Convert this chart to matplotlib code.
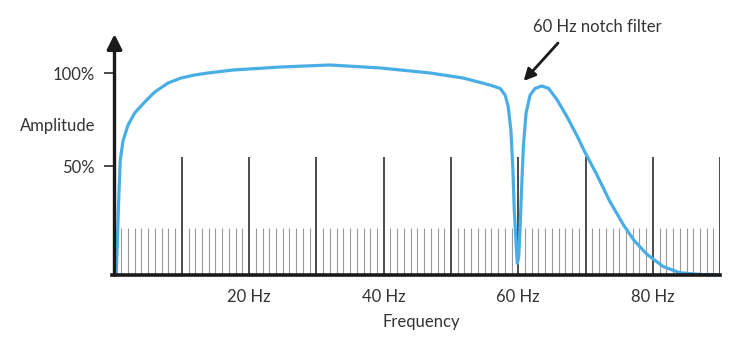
import matplotlib
matplotlib.use("Agg")
import matplotlib.pyplot as plt

# frequency response (Hz, amplitude %)
freq_hz = [0.0, 0.27, 0.42, 0.62, 0.86, 1.26, 2.0, 3.0, 4.5, 6.0, 7.95, 9.9,
           11.9, 13.9, 17.6, 24.6, 32.0, 39.5, 46.9, 51.8, 55.8, 57.3, 58.05,
           58.5, 58.9, 59.2, 59.4, 59.7, 59.85, 60.06, 60.25, 60.5, 60.75,
           61.15, 61.75, 62.5, 63.5, 64.5, 65.7, 67.2, 68.7, 69.9, 71.65,
           73.6, 75.6, 77.2, 79.1, 81.5, 84.0, 87.0, 89.5]
amplitude = [-8.6, -7.5, 8.6, 31.8, 53.3, 63.5, 72.0, 78.6, 84.5, 89.9, 94.7,
             97.4, 99.0, 100.1, 101.7, 103.3, 104.4, 102.8, 100.1, 97.4, 93.6,
             91.8, 88.2, 81.9, 69.4, 47.9, 26.4, 6.6, -2.3, 1.2, 15.6, 38.9,
             60.4, 78.4, 88.2, 91.8, 93.1, 91.8, 86.0, 76.8, 66.5, 57.5, 45.5,
             31.0, 18.5, 10.0, 2.6, -4.0, -7.4, -8.3, -8.6]

major_ticks = [10, 20, 30, 40, 50, 60, 70, 80, 90]
minor_ticks = [f for f in range(1, 90) if f % 10 != 0]
x_labels = [20, 40, 60, 80]
y_ticks = [50, 100]
y_labels = ["50%", "100%"]

plt.rcParams["font.family"] = ["Lato", "DejaVu Sans"]
text_color = "#333333"
fs = 12

W, H = 739, 339
fig = plt.figure(figsize=(W / 100, H / 100), dpi=100)
# axes spans 0-90 Hz horizontally, baseline to arrow tip vertically
ax = fig.add_axes([114.5 / W, (H - 275) / H, (720.2 - 114.5) / W, (275 - 36) / H])
y0, y1 = -8.6, 120
ax.set_xlim(0, 90)
ax.set_ylim(y0, y1)
for s in ax.spines.values():
    s.set_visible(False)

# tick comb
ax.vlines(minor_ticks, y0, 16.7, color="#9a9a9a", lw=0.8)
ax.vlines(major_ticks, y0, 54.8, color="#1a1a1a", lw=1.1)

# frequency response
ax.plot(freq_hz, amplitude, color="#4aaee6", lw=2.3, solid_capstyle="round",
        solid_joinstyle="round", zorder=4, clip_on=False)

# axes lines
ax.plot([-0.3, 90], [y0, y0], color="#1a1a1a", lw=2.6, clip_on=False, zorder=5)
ax.annotate("", xy=(0, y1 + 1), xytext=(0, y0), annotation_clip=False,
            arrowprops=dict(arrowstyle="-|>,head_length=0.9,head_width=0.45",
                            color="#1a1a1a", lw=2.4, shrinkA=0, shrinkB=0), zorder=5)

ax.set_xticks(x_labels, [f"{v} Hz" for v in x_labels])
ax.tick_params(axis="x", length=0, pad=10, labelsize=fs, labelcolor=text_color)
ax.set_yticks(y_ticks, y_labels)
ax.tick_params(axis="y", length=8, width=1.1, color="#1a1a1a", pad=6,
               labelsize=fs, labelcolor=text_color)

fig.text(58 / W, (H - 126) / H, "Amplitude", ha="center", va="center",
         fontsize=fs, color=text_color)
fig.text(421 / W, (H - 322) / H, "Frequency", ha="center", va="center",
         fontsize=fs, color=text_color)

# notch annotation
ax.text(71.8, 124.9, "60 Hz notch filter", ha="center", va="center",
        fontsize=fs, color=text_color, clip_on=False)
ax.annotate("", xy=(60.8, 95.8), xytext=(65.9, 116.2), annotation_clip=False,
            arrowprops=dict(arrowstyle="-|>,head_length=0.7,head_width=0.35",
                            color="#1a1a1a", lw=2.0, shrinkA=0, shrinkB=0))

fig.savefig("out.png", dpi=100)
